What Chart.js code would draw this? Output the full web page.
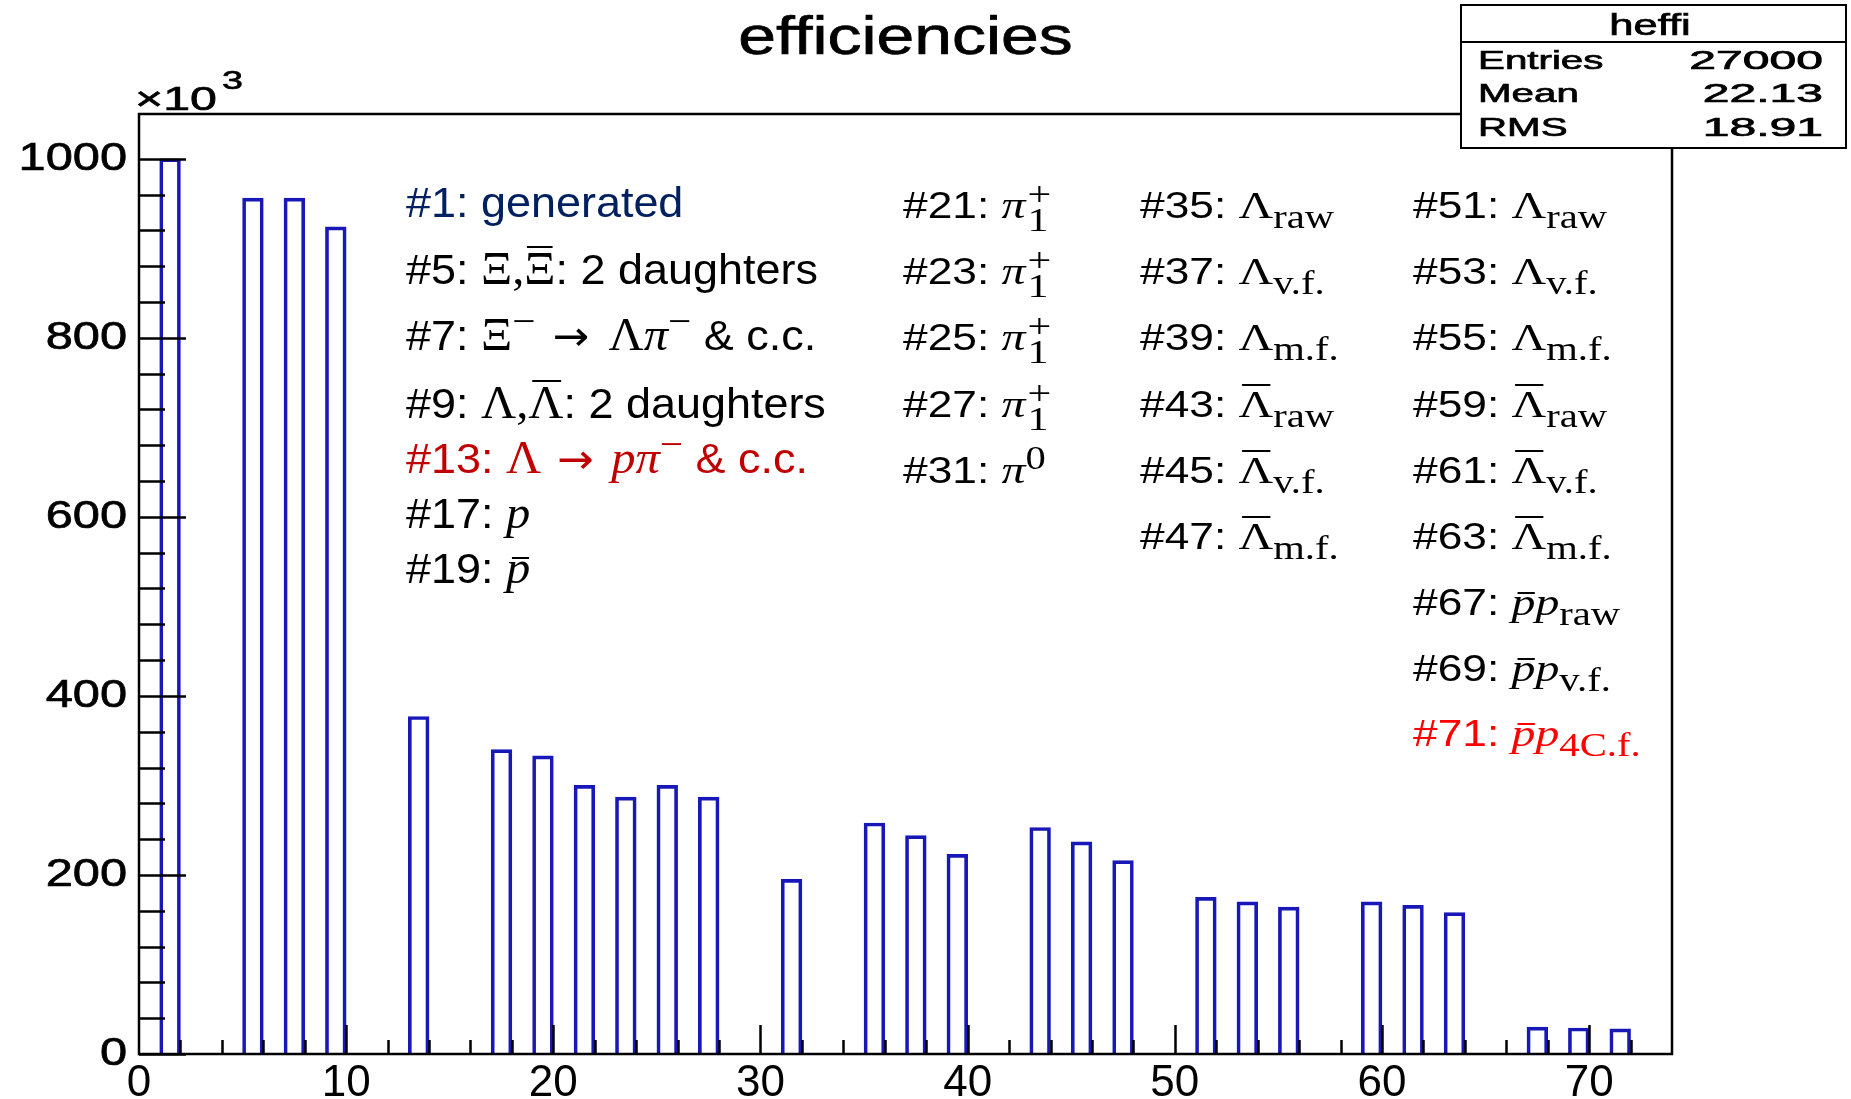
<!DOCTYPE html>
<html>
<head>
<meta charset="utf-8">
<title>efficiencies</title>
<script src="https://cdn.jsdelivr.net/npm/chart.js@4.4.0/dist/chart.umd.min.js"></script>
<style>
  html, body { margin: 0; padding: 0; background: #fff; }
  #wrap { position: relative; width: 1851px; height: 1099px; overflow: hidden; }
  #heffi { position: absolute; left: 0; top: 0; }
  .note { position: absolute; white-space: nowrap; line-height: 1; transform-origin: 0 0;
          font-family: "Liberation Sans", Arial, sans-serif; color: #000; }
  .c1 { font-size: 42px; transform: scaleX(1.07); }
  .cn { font-size: 36px; transform: scaleX(1.23); }
  .m { font-family: "Liberation Serif", "DejaVu Serif", serif; font-size: 1.08em; }
  .i { font-style: italic; }
  .arr { font-family: "DejaVu Sans", sans-serif; font-size: 0.9em; margin: 0 0.12em; }
  .gap { margin-right: 0.22em; }
  .sub { position: relative; top: 0.3em; font-size: 0.85em; }
  .sup { position: relative; top: -0.42em; font-size: 0.85em; }
  .bar { position: relative; }
  .bar::before { content: ''; position: absolute; left: 10%; right: 8%; top: 0.05em;
                 border-top: 2px solid currentColor; }
  .pbar::before { top: 0.3em; left: 25%; right: 5%; }
  .ss { display: inline-block; position: relative; width: 0.55em; height: 0; }
  .ss span { position: absolute; left: 0.05em; font-size: 0.88em; line-height: 1; }
  .ss .u { bottom: 0.2em; }
  .ss .d { bottom: -0.55em; }
</style>
</head>
<body>
<div id="wrap">
  <canvas id="heffi" width="1851" height="1099"></canvas>

  <!-- bin index legend, first column -->
  <div class="note c1" style="left:406px;top:182px;color:#002060">#1: generated</div>
  <div class="note c1" style="left:406px;top:247px">#5: <span class="m">Ξ,<span class="bar">Ξ</span></span>: 2 daughters</div>
  <div class="note c1" style="left:406px;top:313px">#7: <span class="m">Ξ<span class="sup">−</span> <span class="arr gap">→</span> Λ<span class="i">π</span><span class="sup">−</span></span> &amp; c.c.</div>
  <div class="note c1" style="left:406px;top:381px">#9: <span class="m">Λ,<span class="bar">Λ</span></span>: 2 daughters</div>
  <div class="note c1" style="left:406px;top:436px;color:#c00000">#13: <span class="m">Λ <span class="arr">→</span> <span class="i">pπ</span><span class="sup">−</span></span> &amp; c.c.</div>
  <div class="note c1" style="left:406px;top:491px">#17: <span class="m i">p</span></div>
  <div class="note c1" style="left:406px;top:546px">#19: <span class="m i bar pbar">p</span></div>

  <!-- pions -->
  <div class="note cn" style="left:903px;top:186px">#21: <span class="m"><span class="i">π</span><span class="ss"><span class="u">+</span><span class="d">1</span></span></span></div>
  <div class="note cn" style="left:903px;top:252px">#23: <span class="m"><span class="i">π</span><span class="ss"><span class="u">+</span><span class="d">1</span></span></span></div>
  <div class="note cn" style="left:903px;top:318px">#25: <span class="m"><span class="i">π</span><span class="ss"><span class="u">+</span><span class="d">1</span></span></span></div>
  <div class="note cn" style="left:903px;top:385px">#27: <span class="m"><span class="i">π</span><span class="ss"><span class="u">+</span><span class="d">1</span></span></span></div>
  <div class="note cn" style="left:903px;top:451px">#31: <span class="m"><span class="i">π</span><span class="sup">0</span></span></div>

  <!-- lambdas -->
  <div class="note cn" style="left:1140px;top:186px">#35: <span class="m">Λ<span class="sub">raw</span></span></div>
  <div class="note cn" style="left:1140px;top:252px">#37: <span class="m">Λ<span class="sub">v.f.</span></span></div>
  <div class="note cn" style="left:1140px;top:318px">#39: <span class="m">Λ<span class="sub">m.f.</span></span></div>
  <div class="note cn" style="left:1140px;top:385px">#43: <span class="m"><span class="bar">Λ</span><span class="sub">raw</span></span></div>
  <div class="note cn" style="left:1140px;top:451px">#45: <span class="m"><span class="bar">Λ</span><span class="sub">v.f.</span></span></div>
  <div class="note cn" style="left:1140px;top:517px">#47: <span class="m"><span class="bar">Λ</span><span class="sub">m.f.</span></span></div>

  <div class="note cn" style="left:1413px;top:186px">#51: <span class="m">Λ<span class="sub">raw</span></span></div>
  <div class="note cn" style="left:1413px;top:252px">#53: <span class="m">Λ<span class="sub">v.f.</span></span></div>
  <div class="note cn" style="left:1413px;top:318px">#55: <span class="m">Λ<span class="sub">m.f.</span></span></div>
  <div class="note cn" style="left:1413px;top:385px">#59: <span class="m"><span class="bar">Λ</span><span class="sub">raw</span></span></div>
  <div class="note cn" style="left:1413px;top:451px">#61: <span class="m"><span class="bar">Λ</span><span class="sub">v.f.</span></span></div>
  <div class="note cn" style="left:1413px;top:517px">#63: <span class="m"><span class="bar">Λ</span><span class="sub">m.f.</span></span></div>
  <div class="note cn" style="left:1413px;top:583px">#67: <span class="m"><span class="i bar pbar">p</span><span class="i">p</span><span class="sub">raw</span></span></div>
  <div class="note cn" style="left:1413px;top:649px">#69: <span class="m"><span class="i bar pbar">p</span><span class="i">p</span><span class="sub">v.f.</span></span></div>
  <div class="note cn" style="left:1413px;top:714px;color:#ff0000">#71: <span class="m"><span class="i bar pbar">p</span><span class="i">p</span><span class="sub">4C.f.</span></span></div>
</div>

<script>
// histogram heffi: filled bins (lower edge) and their contents, in units of 10^3
const binNumbers = [1, 5, 7, 9, 13, 17, 19, 21, 23, 25, 27, 31, 35, 37, 39,
                    43, 45, 47, 51, 53, 55, 59, 61, 63, 67, 69, 71];
const binContents = [1000, 956, 956, 924, 377, 340, 333, 300, 287, 300, 287, 195, 258, 244, 223,
                     253, 237, 216, 175, 170, 164, 170, 166, 158, 30, 29, 28];
const nBins = 74;
const yMax = 1050;

const xTicks = [0, 10, 20, 30, 40, 50, 60, 70];
const yTicks = [0, 200, 400, 600, 800, 1000];

const histTitle = 'efficiencies';
const statsName = 'heffi';
const statsKeys = ['Entries', 'Mean', 'RMS'];
const statsValues = ['27000', '22.13', '18.91'];

// one category per unit bin, empty bins stay null
const binLabels = Array.from({ length: nBins }, (_, i) => String(i));
const binValues = binLabels.map((_, i) => {
  const k = binNumbers.indexOf(i);
  return k < 0 ? null : binContents[k];
});

const SANS = '"Liberation Sans", Arial, sans-serif';

// text stretched horizontally like the ROOT canvas output, with a light stroke to thicken it
function wideText(ctx, text, x, y, sx, align) {
  ctx.save();
  ctx.translate(x, y);
  ctx.scale(sx, 1);
  ctx.textAlign = align;
  ctx.fillText(text, 0, 0);
  ctx.lineWidth = 0.7;
  ctx.strokeText(text, 0, 0);
  ctx.restore();
}

// ROOT-like frame: inside tick marks, frame box, y labels, title and stats box
const rootFrame = {
  id: 'rootFrame',
  afterDraw(chart) {
    const { ctx, chartArea: a } = chart;
    const xs = chart.scales.x;
    const ys = chart.scales.y;

    ctx.save();
    ctx.strokeStyle = '#000';
    ctx.fillStyle = '#000';
    ctx.lineWidth = 2.5;

    ctx.beginPath();
    // y ticks: major every 200, 5 subdivisions
    for (let v = 0; v <= yTicks[yTicks.length - 1]; v += 40) {
      const y = Math.round(ys.getPixelForValue(v)) + 0.5;
      const len = v % 200 === 0 ? 47 : 26;
      ctx.moveTo(a.left, y);
      ctx.lineTo(a.left + len, y);
    }
    // x ticks: major every 10, minor every 2
    for (let v = 2; v < nBins; v += 2) {
      const x = Math.round(xs.getPixelForValue(v)) + 0.5;
      const len = v % 10 === 0 ? 29 : 14;
      ctx.moveTo(x, a.bottom);
      ctx.lineTo(x, a.bottom - len);
    }
    ctx.stroke();

    ctx.strokeRect(a.left, a.top, a.right - a.left, a.bottom - a.top);

    // y labels
    ctx.font = '39px ' + SANS;
    ctx.textBaseline = 'middle';
    yTicks.forEach(v => wideText(ctx, String(v), a.left - 12, ys.getPixelForValue(v), 1.25, 'right'));

    // exponent above the y axis
    ctx.textBaseline = 'alphabetic';
    ctx.font = '34px ' + SANS;
    wideText(ctx, '\u00d710', a.left - 4, 110, 1.42, 'left');
    ctx.font = '26px ' + SANS;
    wideText(ctx, '3', a.left + 83, 89, 1.45, 'left');

    // title
    ctx.font = '53px ' + SANS;
    wideText(ctx, histTitle, (a.left + a.right) / 2, 54, 1.28, 'center');

    // stats box
    const bx = 1461, by = 5, bw = 385, bh = 143;
    ctx.fillStyle = '#fff';
    ctx.fillRect(bx, by, bw, bh);
    ctx.lineWidth = 2;
    ctx.strokeRect(bx, by, bw, bh);
    ctx.beginPath();
    ctx.moveTo(bx, 42);
    ctx.lineTo(bx + bw, 42);
    ctx.stroke();
    ctx.fillStyle = '#000';
    ctx.font = '29px ' + SANS;
    wideText(ctx, statsName, 1650, 35, 1.5, 'center');
    ctx.font = '26px ' + SANS;
    statsKeys.forEach((k, i) => {
      const y = [69, 102, 136][i];
      wideText(ctx, k, 1478, y, 1.55, 'left');
      wideText(ctx, statsValues[i], 1823, y, 1.85, 'right');
    });
    ctx.restore();
  }
};

new Chart(document.getElementById('heffi'), {
  type: 'bar',
  data: {
    labels: binLabels,
    datasets: [{
      label: statsName,
      data: binValues,
      xAxisID: 'bins',
      yAxisID: 'y',
      borderColor: '#1818b8',
      borderWidth: 3,
      backgroundColor: 'rgba(255,255,255,0)',
      barPercentage: 1,
      categoryPercentage: 1
    }]
  },
  options: {
    responsive: false,
    animation: false,
    layout: { padding: { top: 114, right: 179, left: 0, bottom: 0 } },
    plugins: {
      legend: { display: false },
      tooltip: { enabled: false },
      title: { display: false }
    },
    scales: {
      bins: {
        type: 'category',
        display: false,
        offset: true
      },
      x: {
        type: 'linear',
        position: 'bottom',
        offset: false,
        min: 0,
        max: nBins,
        afterBuildTicks: s => { s.ticks = xTicks.map(v => ({ value: v })); },
        afterFit: s => { s.height = 45; },
        grid: { display: false, drawTicks: false, offset: false },
        border: { display: false },
        ticks: {
          color: '#000',
          font: { family: SANS, size: 44 },
          padding: 3,
          maxRotation: 0,
          autoSkip: false
        }
      },
      y: {
        type: 'linear',
        min: 0,
        max: yMax,
        afterBuildTicks: s => { s.ticks = yTicks.map(v => ({ value: v })); },
        afterFit: s => { s.width = 139; },
        grid: { display: false, drawTicks: false },
        border: { display: false },
        ticks: { display: false }
      }
    }
  },
  plugins: [rootFrame]
});
</script>
</body>
</html>
